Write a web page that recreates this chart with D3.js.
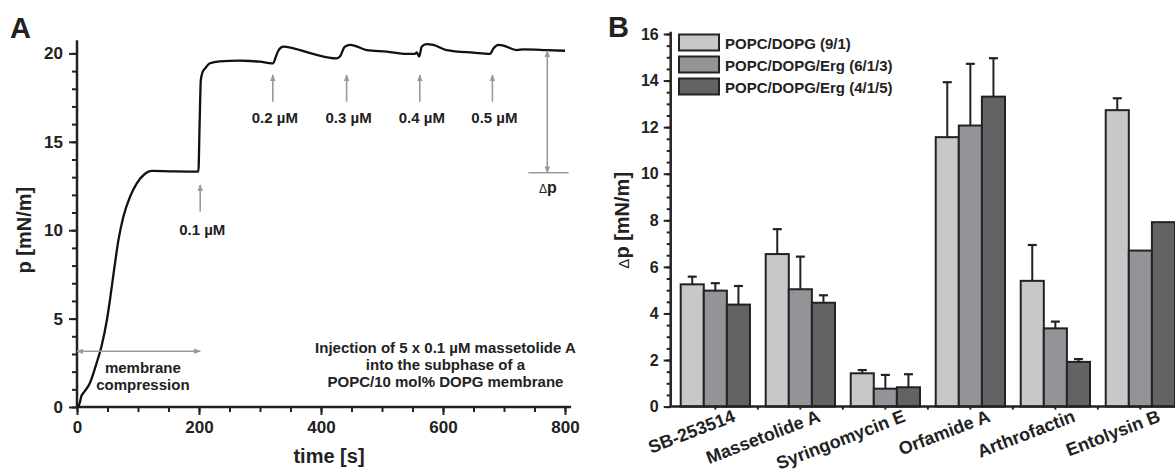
<!DOCTYPE html>
<html>
<head>
<meta charset="utf-8">
<script src="https://cdn.jsdelivr.net/npm/d3@7"></script>
<style>
  body { margin: 0; background: #fff; }
  svg { font-family: "Liberation Sans", Arial, sans-serif; font-weight: bold; fill: #222; }
  .axis path, .axis line { stroke: #222; }
  .axis text { fill: #222; font-weight: bold; }
</style>
</head>
<body>
<svg id="chart" width="1175" height="472"></svg>
<script>
// Panel A: surface pressure trace
var timeS = [2, 5, 7, 10, 21, 32, 40, 49, 54, 60, 68, 76, 87, 98, 111, 122, 152, 199, 201, 203, 206, 210, 218, 234, 267, 284, 300, 319, 322, 325, 330, 338, 355, 387, 426, 431, 439, 448, 475, 508, 540, 554, 557, 561, 565, 573, 584, 606, 650, 677, 683, 691, 699, 721, 732, 770, 800];
var pressure = [0, 0.3, 0.6, 0.77, 1.34, 2.47, 3.41, 4.92, 6.05, 7.56, 9.45, 10.76, 11.9, 12.65, 13.18, 13.35, 13.33, 13.31, 16.0, 18.5, 18.95, 19.15, 19.44, 19.55, 19.59, 19.57, 19.53, 19.44, 19.45, 19.72, 20.15, 20.38, 20.29, 19.97, 19.72, 19.82, 20.38, 20.48, 20.19, 20.1, 19.97, 19.97, 20.05, 19.82, 20.38, 20.53, 20.48, 20.19, 20.04, 19.97, 20.29, 20.48, 20.44, 20.19, 20.23, 20.19, 20.15];
var injTimes = [202, 321, 442, 562, 681];
var injLabels = ["0.1 \u00b5M", "0.2 \u00b5M", "0.3 \u00b5M", "0.4 \u00b5M", "0.5 \u00b5M"];
var xTicksA = [0, 200, 400, 600, 800];
var yTicksA = [0, 5, 10, 15, 20];

// Panel B: pressure increase per lipopeptide
var peptides = ["SB-253514", "Massetolide A", "Syringomycin E", "Orfamide A", "Arthrofactin", "Entolysin B"];
var membranes = ["POPC/DOPG (9/1)", "POPC/DOPG/Erg (6/1/3)", "POPC/DOPG/Erg (4/1/5)"];
var dp91 = [5.25, 6.55, 1.43, 11.57, 5.40, 12.73];
var dp613 = [4.98, 5.04, 0.77, 12.07, 3.36, 6.70];
var dp415 = [4.38, 4.46, 0.83, 13.31, 1.92, 7.92];
var err91 = [5.58, 7.62, 1.57, 13.93, 6.94, 13.24];
var err613 = [5.30, 6.44, 1.36, 14.72, 3.65, null];
var err415 = [5.18, 4.78, 1.39, 14.96, 2.04, null];
var yTicksB = [0, 2, 4, 6, 8, 10, 12, 14, 16];
var fills = ["#c7c8ca", "#939498", "#636366"];

var svg = d3.select("#chart");
var ink = "#222";
var grey = "#9a9a9a";

svg.append("defs").append("marker")
  .attr("id", "head")
  .attr("viewBox", "0 0 10 10")
  .attr("refX", 9).attr("refY", 5)
  .attr("markerWidth", 7).attr("markerHeight", 7)
  .attr("markerUnits", "userSpaceOnUse")
  .attr("orient", "auto-start-reverse")
  .append("path")
  .attr("d", "M0,1 L10,5 L0,9 Z")
  .attr("fill", grey);

// ---------- Panel A ----------
var xA = d3.scaleLinear().domain([0, 800]).range([77, 565]);
var yA = d3.scaleLinear().domain([0, 20]).range([407, 53.4]);
var gA = svg.append("g");

gA.append("g").attr("class", "axis")
  .attr("transform", "translate(0," + yA(0) + ")")
  .call(d3.axisBottom(xA).tickValues(d3.range(0, 801, 50)).tickSize(5).tickFormat(""))
  .call(function(g) { g.select(".domain").remove(); });
gA.append("g").attr("class", "axis")
  .attr("transform", "translate(0," + yA(0) + ")")
  .call(d3.axisBottom(xA).tickValues(xTicksA).tickSize(8).tickPadding(6))
  .call(function(g) { g.select(".domain").remove(); })
  .selectAll("text").style("font-size", "17px");
gA.append("g").attr("class", "axis")
  .attr("transform", "translate(" + xA(0) + ",0)")
  .call(d3.axisLeft(yA).tickValues(d3.range(0, 21, 1)).tickSize(5).tickFormat(""))
  .call(function(g) { g.select(".domain").remove(); });
gA.append("g").attr("class", "axis")
  .attr("transform", "translate(" + xA(0) + ",0)")
  .call(d3.axisLeft(yA).tickValues(yTicksA).tickSize(8).tickPadding(6))
  .call(function(g) { g.select(".domain").remove(); })
  .selectAll("text").style("font-size", "17px");
gA.selectAll(".axis line").attr("stroke-width", 2);

gA.append("line")
  .attr("x1", xA(0)).attr("x2", xA(810)).attr("y1", yA(0)).attr("y2", yA(0))
  .attr("stroke", ink).attr("stroke-width", 2.5);
gA.append("line")
  .attr("x1", xA(0)).attr("x2", xA(0)).attr("y1", yA(0)).attr("y2", yA(20.75))
  .attr("stroke", ink).attr("stroke-width", 2.5);

var trace = timeS.map(function(t, i) { return [t, pressure[i]]; });
gA.append("path")
  .datum(trace)
  .attr("fill", "none")
  .attr("stroke", "#111")
  .attr("stroke-width", 2.3)
  .attr("stroke-linejoin", "round")
  .attr("d", d3.line()
    .x(function(d) { return xA(d[0]); })
    .y(function(d) { return yA(d[1]); })
    .curve(d3.curveMonotoneX));

// injection arrows
injTimes.forEach(function(t, i) {
  var first = i === 0;
  var tip = first ? 12.56 : 18.78;
  var base = first ? 11.05 : 17.27;
  gA.append("line")
    .attr("x1", xA(t)).attr("x2", xA(t))
    .attr("y1", yA(base)).attr("y2", yA(tip))
    .attr("stroke", grey).attr("stroke-width", 1.6)
    .attr("marker-end", "url(#head)");
  gA.append("text")
    .attr("x", xA(t) + 2)
    .attr("y", first ? yA(9.73) : yA(16.05))
    .attr("text-anchor", "middle")
    .style("font-size", "15px")
    .text(injLabels[i]);
});

// membrane compression arrow
gA.append("line")
  .attr("x1", xA(0)).attr("x2", xA(202))
  .attr("y1", yA(3.15)).attr("y2", yA(3.15))
  .attr("stroke", grey).attr("stroke-width", 1.6)
  .attr("marker-start", "url(#head)").attr("marker-end", "url(#head)");
gA.append("text").attr("x", xA(108)).attr("y", yA(1.95))
  .attr("text-anchor", "middle").style("font-size", "15px").text("membrane");
gA.append("text").attr("x", xA(108)).attr("y", yA(0.95))
  .attr("text-anchor", "middle").style("font-size", "15px").text("compression");

// delta pi marker
gA.append("line")
  .attr("x1", xA(771)).attr("x2", xA(771))
  .attr("y1", yA(20.15)).attr("y2", yA(13.25))
  .attr("stroke", grey).attr("stroke-width", 1.6)
  .attr("marker-start", "url(#head)").attr("marker-end", "url(#head)");
gA.append("line")
  .attr("x1", xA(740)).attr("x2", xA(806))
  .attr("y1", yA(13.25)).attr("y2", yA(13.25))
  .attr("stroke", grey).attr("stroke-width", 1.6);
var dpA = gA.append("text").attr("x", xA(772)).attr("y", yA(12.1))
  .attr("text-anchor", "middle").style("font-size", "16px");
dpA.append("tspan").style("font-size", "12px").style("font-weight", "normal").text("\u0394");
dpA.append("tspan").text("p");

var note = ["Injection of 5 x 0.1 \u00b5M massetolide A", "into the subphase of a", "POPC/10 mol% DOPG membrane"];
note.forEach(function(s, i) {
  gA.append("text")
    .attr("x", xA(604)).attr("y", 353 + i * 17)
    .attr("text-anchor", "middle").style("font-size", "15px").text(s);
});

gA.append("text").attr("x", 329).attr("y", 463)
  .attr("text-anchor", "middle").style("font-size", "20px").text("time [s]");
gA.append("text")
  .attr("transform", "translate(31," + (yA(0) + yA(20)) / 2 + ") rotate(-90)")
  .attr("text-anchor", "middle").style("font-size", "20px").text("p [mN/m]");
gA.append("text").attr("x", 10).attr("y", 38).style("font-size", "29px").text("A");

// ---------- Panel B ----------
var yB = d3.scaleLinear().domain([0, 16]).range([406.6, 34]);
var x0 = d3.scaleBand().domain(peptides).range([670.7, 1185]).paddingInner(0.185).paddingOuter(0.1176);
var x1 = d3.scaleBand().domain([0, 1, 2]).range([0, x0.bandwidth()]);
var gB = svg.append("g");

var values = [dp91, dp613, dp415];
var errors = [err91, err613, err415];
var rows = [];
peptides.forEach(function(p, i) {
  values.forEach(function(v, s) {
    rows.push({ pep: p, s: s, v: v[i], e: errors[s][i] });
  });
});

gB.selectAll("rect.bar")
  .data(rows).enter().append("rect")
  .attr("class", "bar")
  .attr("x", function(d) { return x0(d.pep) + x1(d.s); })
  .attr("y", function(d) { return yB(d.v); })
  .attr("width", x1.bandwidth())
  .attr("height", function(d) { return yB(0) - yB(d.v); })
  .attr("fill", function(d) { return fills[d.s]; })
  .attr("stroke", ink).attr("stroke-width", 2);

var withErr = rows.filter(function(d) { return d.e != null; });
gB.selectAll("line.err")
  .data(withErr).enter().append("line")
  .attr("class", "err")
  .attr("x1", function(d) { return x0(d.pep) + x1(d.s) + x1.bandwidth() / 2; })
  .attr("x2", function(d) { return x0(d.pep) + x1(d.s) + x1.bandwidth() / 2; })
  .attr("y1", function(d) { return yB(d.v); })
  .attr("y2", function(d) { return yB(d.e); })
  .attr("stroke", ink).attr("stroke-width", 2);
gB.selectAll("line.cap")
  .data(withErr).enter().append("line")
  .attr("class", "cap")
  .attr("x1", function(d) { return x0(d.pep) + x1(d.s) + x1.bandwidth() / 2 - 4.5; })
  .attr("x2", function(d) { return x0(d.pep) + x1(d.s) + x1.bandwidth() / 2 + 4.5; })
  .attr("y1", function(d) { return yB(d.e); })
  .attr("y2", function(d) { return yB(d.e); })
  .attr("stroke", ink).attr("stroke-width", 2.2);

gB.append("g").attr("class", "axis")
  .attr("transform", "translate(670.7,0)")
  .call(d3.axisLeft(yB).tickValues(d3.range(0, 16.01, 0.5)).tickSize(4).tickFormat(""))
  .call(function(g) { g.select(".domain").remove(); });
gB.append("g").attr("class", "axis")
  .attr("transform", "translate(670.7,0)")
  .call(d3.axisLeft(yB).tickValues(yTicksB).tickSize(7).tickPadding(5))
  .call(function(g) { g.select(".domain").remove(); })
  .selectAll("text").style("font-size", "16px");
gB.append("g").attr("class", "axis")
  .attr("transform", "translate(0," + yB(0) + ")")
  .call(d3.axisBottom(x0).tickSize(3).tickFormat(""))
  .call(function(g) { g.select(".domain").remove(); });
// small ticks between the groups
gB.selectAll("line.sep")
  .data(peptides.slice(1)).enter().append("line")
  .attr("class", "sep")
  .attr("x1", function(d) { return x0(d) - x0.step() * x0.paddingInner() / 2; })
  .attr("x2", function(d) { return x0(d) - x0.step() * x0.paddingInner() / 2; })
  .attr("y1", yB(0)).attr("y2", yB(0) + 3)
  .attr("stroke", ink);
gB.selectAll(".axis line").attr("stroke-width", 2);
gB.selectAll("line.sep").attr("stroke-width", 2);

gB.append("line")
  .attr("x1", 670.7).attr("x2", 1175).attr("y1", yB(0)).attr("y2", yB(0))
  .attr("stroke", ink).attr("stroke-width", 2.5);
gB.append("line")
  .attr("x1", 670.7).attr("x2", 670.7).attr("y1", yB(0)).attr("y2", yB(16.1))
  .attr("stroke", ink).attr("stroke-width", 2.5);

gB.selectAll("text.cat")
  .data(peptides).enter().append("text")
  .attr("class", "cat")
  .attr("text-anchor", "end")
  .attr("transform", function(d) {
    return "translate(" + (x0(d) + x0.bandwidth() / 2 + 21) + ",421) rotate(-21)";
  })
  .style("font-size", "18px")
  .text(function(d) { return d; });

// legend
var leg = gB.selectAll("g.leg").data(membranes).enter().append("g")
  .attr("class", "leg")
  .attr("transform", function(d, i) { return "translate(679," + (34.5 + i * 22) + ")"; });
leg.append("rect").attr("width", 40).attr("height", 16)
  .attr("fill", function(d, i) { return fills[i]; })
  .attr("stroke", ink).attr("stroke-width", 2);
leg.append("text").attr("x", 46).attr("y", 14)
  .style("font-size", "15px").text(function(d) { return d; });

var yt = gB.append("text")
  .attr("transform", "translate(629," + (yB(0) + yB(16)) / 2 + ") rotate(-90)")
  .attr("text-anchor", "middle").style("font-size", "20px");
yt.append("tspan").style("font-size", "15px").style("font-weight", "normal").text("\u0394");
yt.append("tspan").text("p [mN/m]");
gB.append("text").attr("x", 608).attr("y", 37).style("font-size", "29px").text("B");
</script>
</body>
</html>
